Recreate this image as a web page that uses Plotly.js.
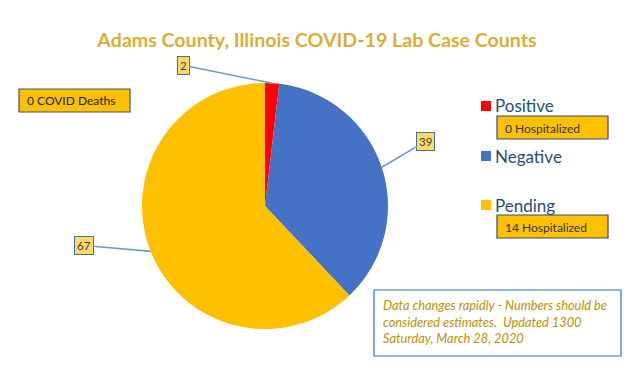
<!DOCTYPE html>
<html><head><meta charset="utf-8">
<script src="https://cdn.plot.ly/plotly-3.0.1.min.js"></script>
<style>body{margin:0;background:#fff}#chart{width:638px;height:365px}</style>
</head><body><div id="chart"></div>
<script>
const categories = ["Positive", "Negative", "Pending"];
const counts = [2, 39, 67];
const hospitalized = ["0 Hospitalized", null, "14 Hospitalized"];
const deathsNote = "0 COVID Deaths";
const updateNote = "Data changes rapidly - Numbers should be<br>considered estimates.  Updated 1300<br>Saturday, March 28, 2020";
const titleText = "Adams County, Illinois COVID-19 Lab Case Counts";
const colors = ["#FF0000", "#4472C4", "#FFC000"];

const W = 638, H = 365;
const cxPx = 265, cyPx = 206, rPx = 123;
const domain = {x: [(cxPx - rPx) / W, (cxPx + rPx) / W], y: [1 - (cyPx + rPx) / H, 1 - (cyPx - rPx) / H]};
const font = "Lato, 'Open Sans', sans-serif";
const px = v => v / W, py = v => 1 - v / H;

// label box offsets (pixels, relative to slice edge point)
const labelOffsets = [[-89, -18], [44, -26], [-67, -6]];

const total = counts.reduce((a, b) => a + b, 0);
let cum = 0;
const annotations = [];
const shapes = [];
counts.forEach((v, i) => {
  const mid = (cum + v / 2) / total * 2 * Math.PI;
  cum += v;
  annotations.push({
    x: px(cxPx + rPx * Math.sin(mid)), y: py(cyPx - rPx * Math.cos(mid)), xref: "paper", yref: "paper",
    text: String(v), showarrow: true, arrowhead: 0, arrowwidth: 1.6, arrowcolor: "#6E9CC8",
    ax: labelOffsets[i][0], ay: labelOffsets[i][1],
    bgcolor: "#FFD966", bordercolor: "#41719C", borderwidth: 1, borderpad: 2,
    font: {family: font, size: 11.5, color: "#404040"}
  });
});

function box(x0, y0, x1, y1, fill, line) {
  shapes.push({type: "rect", xref: "paper", yref: "paper", x0: px(x0), x1: px(x1), y0: py(y1), y1: py(y0),
    fillcolor: fill, line: {color: line, width: 1.2}, layer: "above"});
}
function label(x, y, text, size, color, anchorY) {
  annotations.push({x: px(x), y: py(y), xref: "paper", yref: "paper", xanchor: "left", yanchor: anchorY || "middle",
    showarrow: false, text: text, align: "left", font: {family: font, size: size, color: color}});
}

// legend
const legendY = [106, 156, 205];
categories.forEach((c, i) => {
  shapes.push({type: "rect", xref: "paper", yref: "paper",
    x0: px(481), x1: px(491), y0: py(legendY[i] + 5), y1: py(legendY[i] - 5),
    fillcolor: colors[i], line: {width: 0}});
  label(493, legendY[i], c, 17, "#1F4E79");
  if (hospitalized[i]) {
    box(497, legendY[i] + 10, 608, legendY[i] + 33, "#FFC000", "#2F4F6F");
    label(503, legendY[i] + 22, hospitalized[i], 12, "#333333");
  }
});

box(19, 89, 130, 112, "#FFC000", "#2F5F6F");
label(25, 101, deathsNote, 12, "#222222");

box(374, 290, 621, 356, "#FFFFFF", "#2E75B6");
annotations.push({x: px(381), y: py(295), xref: "paper", yref: "paper", xanchor: "left", yanchor: "top",
  showarrow: false, text: "<i>" + updateNote + "</i>", align: "left",
  font: {family: font, size: 12.8, color: "#BF9000"}});

const data = [{
  type: "pie", labels: categories, values: counts, sort: false,
  direction: "clockwise", rotation: 0,
  marker: {colors: colors, line: {width: 0}},
  textinfo: "none", hoverinfo: "label+value", showlegend: false,
  domain: domain
}];

const layout = {
  width: W, height: H, margin: {l: 0, r: 0, t: 0, b: 0},
  paper_bgcolor: "#FFFFFF", showlegend: false,
  title: {text: "<b>" + titleText + "</b>", x: 317 / W, xanchor: "center", y: py(40), yanchor: "middle",
    font: {family: font, size: 19.6, color: "#D9AE33"}},
  annotations: annotations, shapes: shapes
};
Plotly.newPlot("chart", data, layout, {displayModeBar: false, staticPlot: true});
</script></body></html>
